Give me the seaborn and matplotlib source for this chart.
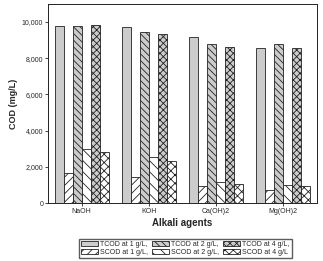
import pandas as pd
import matplotlib
matplotlib.use("Agg")
import matplotlib.pyplot as plt
import seaborn as sns

# valeurs
agents = ["NaOH", "KOH", "Ca(OH)2", "Mg(OH)2"]
series = ["TCOD at 1 g/L,", "SCOD at 1 g/L,", "TCOD at 2 g/L,",
          "SCOD at 2 g/L,", "TCOD at 4 g/L,", "SCOD at 4 g/L"]
tcod_1 = [9800, 9710, 9200, 8590]
scod_1 = [1660, 1420, 925, 705]
tcod_2 = [9780, 9440, 8800, 8800]
scod_2 = [2970, 2530, 1150, 985]
tcod_4 = [9820, 9350, 8630, 8590]
scod_4 = [2800, 2330, 1075, 945]

values = [tcod_1, scod_1, tcod_2, scod_2, tcod_4, scod_4]
rows = []
for s, v in zip(series, values):
    for a, x in zip(agents, v):
        rows.append({"Agent": a, "Serie": s, "COD": x})
df = pd.DataFrame(rows)

sns.set_style("ticks")
plt.rcParams["font.family"] = ["Liberation Sans", "DejaVu Sans"]
plt.rcParams["hatch.linewidth"] = 0.6
plt.rcParams["hatch.color"] = "#333333"

fig = plt.figure(figsize=(3.23, 2.61), dpi=100)
ax = fig.add_axes([0.149, 0.222, 0.832, 0.763])

colors = ["#cccccc", "white", "#cccccc", "white", "#cccccc", "white"]
hatches = ["", "////", "\\\\\\\\\\", "\\\\\\", "xxxxx", "xxxx"]
sns.barplot(data=df, x="Agent", y="COD", hue="Serie", hue_order=series,
            palette=colors, edgecolor="#222222", linewidth=0.6,
            saturation=1, ax=ax, legend=False)
for cont, h in zip(ax.containers, hatches):
    for p in cont.patches:
        p.set_hatch(h)

ax.set_ylim(0, 11000)
ax.set_xlim(-0.5, 3.5)
ax.set_yticks([0, 2000, 4000, 6000, 8000, 10000])
ax.set_yticklabels(["0", "2,000", "4,000", "6,000", "8,000", "10,000"])
ax.tick_params(labelsize=5, length=2, width=0.6, pad=1.5)
for sp in ax.spines.values():
    sp.set_linewidth(0.7)
    sp.set_color("#222222")
ax.set_xlabel("Alkali agents", fontsize=7, fontweight="bold", labelpad=2)
ax.set_ylabel("COD (mg/L)", fontsize=6.5, fontweight="bold", labelpad=3)

handles = [c.patches[0] for c in ax.containers]
fig.legend(handles, series, loc="center", bbox_to_anchor=(0.573, 0.048),
           ncol=3, fontsize=5, frameon=True, fancybox=False, edgecolor="#333333",
           handlelength=2.5, handleheight=0.8, columnspacing=0.5,
           handletextpad=0.3, labelspacing=0.2, borderpad=0.3)

fig.savefig("out.png", dpi=100)
